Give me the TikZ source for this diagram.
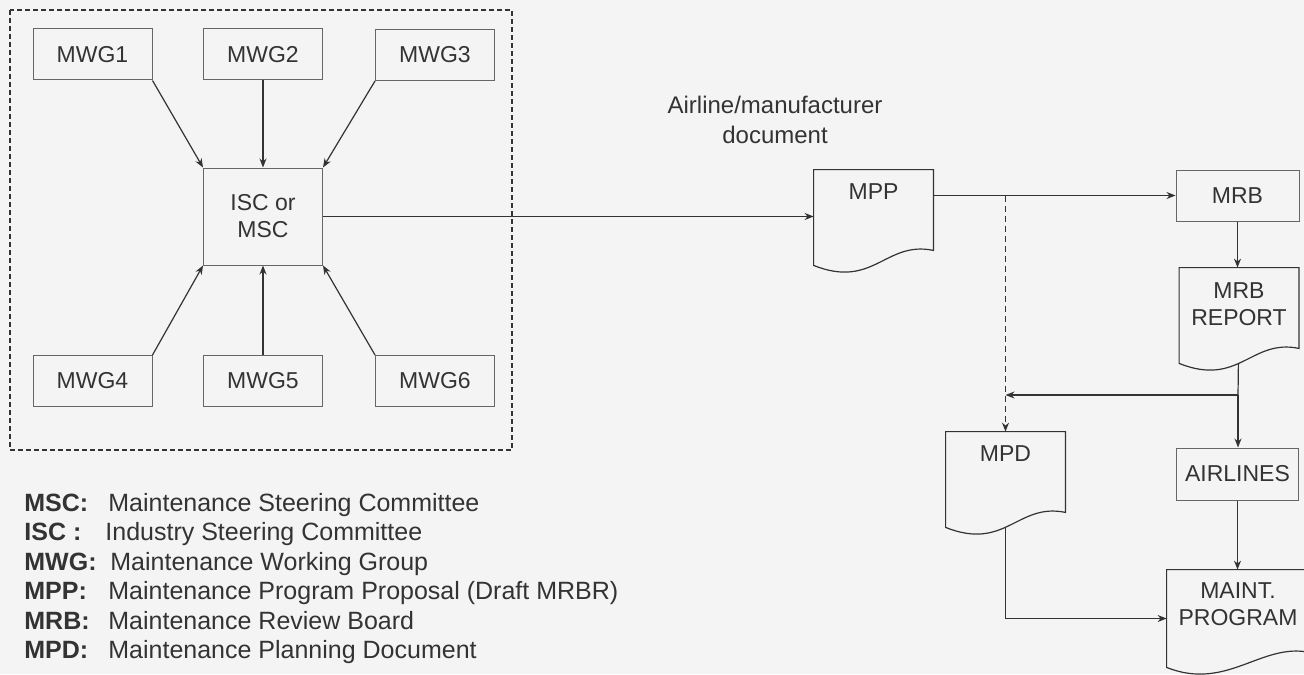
\documentclass[tikz,border=0pt]{standalone}
\usepackage{fontspec}
\setmainfont{Liberation Sans}
\usetikzlibrary{arrows.meta}
\definecolor{ink}{HTML}{333333}
\definecolor{paper}{HTML}{F4F4F4}
\tikzset{
  >={Stealth[length=4.5pt,width=3.5pt]},
  wire/.style={draw=ink, line width=0.6pt},
  mwgbox/.style={draw=ink!75, line width=0.5pt, minimum width=59.5pt, minimum height=25.5pt,
    inner sep=0pt, text=ink, font=\fontsize{11.5}{13.5}\selectfont},
  docbox/.style={minimum width=59.5pt, minimum height=47.5pt, inner sep=0pt},
  doctext/.style={anchor=north, inner sep=0pt, align=center, text=ink,
    font=\fontsize{11.5}{13.5}\selectfont},
  keytext/.style={anchor=base west, inner sep=0pt, text=ink, font=\fontsize{12.5}{14}\selectfont\bfseries},
  desctext/.style={anchor=base west, inner sep=0pt, text=ink, font=\fontsize{12.5}{14}\selectfont},
}
% document symbol with a wavy bottom, drawn over a named node
\newcommand{\docshape}[1]{%
  \filldraw[fill=paper, draw=ink, line width=0.6pt] (#1.south west) -- (#1.north west)
    -- (#1.north east) -- ([shift={(0,-15)}]#1.south east)
    .. controls ([shift={(-48,-25)}]#1.south east) and ([shift={(60,24)}]#1.south west) .. (#1.south west)
    -- cycle;}
\begin{document}
\begin{tikzpicture}[x=0.5pt, y=-0.5pt]
  \useasboundingbox (0,0) rectangle (1304,674);
  \clip (0,0) rectangle (1304,674);
  \fill[paper] (0,0) rectangle (1304,674);

  % working groups around the steering committee
  \draw[ink, line width=0.6pt, dash pattern=on 2.5pt off 1.5pt] (10,10) rectangle (512,450);
  \node[mwgbox] (mwg1) at (92.5,54.5) {MWG1};
  \node[mwgbox] (mwg2) at (263,54.5) {MWG2};
  \node[mwgbox] (mwg3) at (435,55) {MWG3};
  \node[mwgbox, minimum height=48.5pt, align=center] (isc) at (263,216.5) {ISC or\\MSC};
  \node[mwgbox] (mwg4) at (92.5,381) {MWG4};
  \node[mwgbox] (mwg5) at (263,381) {MWG5};
  \node[mwgbox] (mwg6) at (435,381) {MWG6};

  \draw[wire,->] (mwg1.south east) -- (isc.north west);
  \draw[wire,->] (mwg2.south) -- (isc.north);
  \draw[wire,->] (mwg3.south west) -- (isc.north east);
  \draw[wire,->] (mwg4.north east) -- (isc.south west);
  \draw[wire,->] (mwg5.north) -- (isc.south);
  \draw[wire,->] (mwg6.north west) -- (isc.south east);

  % approval chain
  \node[align=center, inner sep=0pt, text=ink, font=\fontsize{12}{15}\selectfont] (src) at (775,120)
    {Airline/manufacturer\\document};
  \node[docbox] (mpp) at (873.5,217.5) {};
  \node[mwgbox, minimum width=61.5pt] (mrb) at (1237.5,195.5) {MRB};
  \node[docbox] (rep) at (1239,315.5) {};
  \node[docbox] (mpd) at (1005.5,479.5) {};
  \node[mwgbox, minimum width=61pt, minimum height=26pt] (air) at (1237.5,474) {AIRLINES};
  \node[docbox, minimum width=71pt, minimum height=48.5pt] (maint) at (1238,618.5) {};
  \coordinate (split) at (1238,395);

  \draw[wire,->] (isc.east) -- (isc.east -| mpp.west);
  \draw[wire,->] (mpp.east |- mrb.west) -- (mrb.west);
  \draw[wire, dash pattern=on 3pt off 2pt, ->] (mpd.north |- mrb.west) -- (mpd.north);
  \draw[wire,->] (mrb.south) -- (mrb.south |- rep.north);
  \draw[wire] (rep) -- (split);
  \draw[wire,->] (split) -- (split -| mpd.north);
  \draw[wire,->] (split) -- (split |- air.north);
  \draw[wire,->] (air.south) -- (air.south |- maint.north);
  \draw[wire,->] (mpd) |- (maint.west);

  \docshape{mpp}
  \docshape{rep}
  \docshape{mpd}
  \docshape{maint}
  \node[doctext] (mpptext) at ([shift={(0,14)}]mpp.north) {MPP};
  \node[doctext] (reptext) at ([shift={(0,15)}]rep.north) {MRB\\REPORT};
  \node[doctext] (mpdtext) at ([shift={(0,14)}]mpd.north) {MPD};
  \node[doctext] (mainttext) at ([shift={(0,13)}]maint.north) {MAINT.\\PROGRAM};

  % legend
  \node[keytext] (k1) at (24,511) {MSC:};
  \node[desctext] (d1) at (108,511) {Maintenance Steering Committee};
  \node[keytext] (k2) at (24,540.5) {ISC :};
  \node[desctext] (d2) at (105,540.5) {Industry Steering Committee};
  \node[keytext] (k3) at (24,570) {MWG:};
  \node[desctext] (d3) at (110,570) {Maintenance Working Group};
  \node[keytext] (k4) at (24,599.5) {MPP:};
  \node[desctext] (d4) at (108,599.5) {Maintenance Program Proposal (Draft MRBR)};
  \node[keytext] (k5) at (24,629) {MRB:};
  \node[desctext] (d5) at (108,629) {Maintenance Review Board};
  \node[keytext] (k6) at (24,658.5) {MPD:};
  \node[desctext] (d6) at (108,658.5) {Maintenance Planning Document};
\end{tikzpicture}
\end{document}
